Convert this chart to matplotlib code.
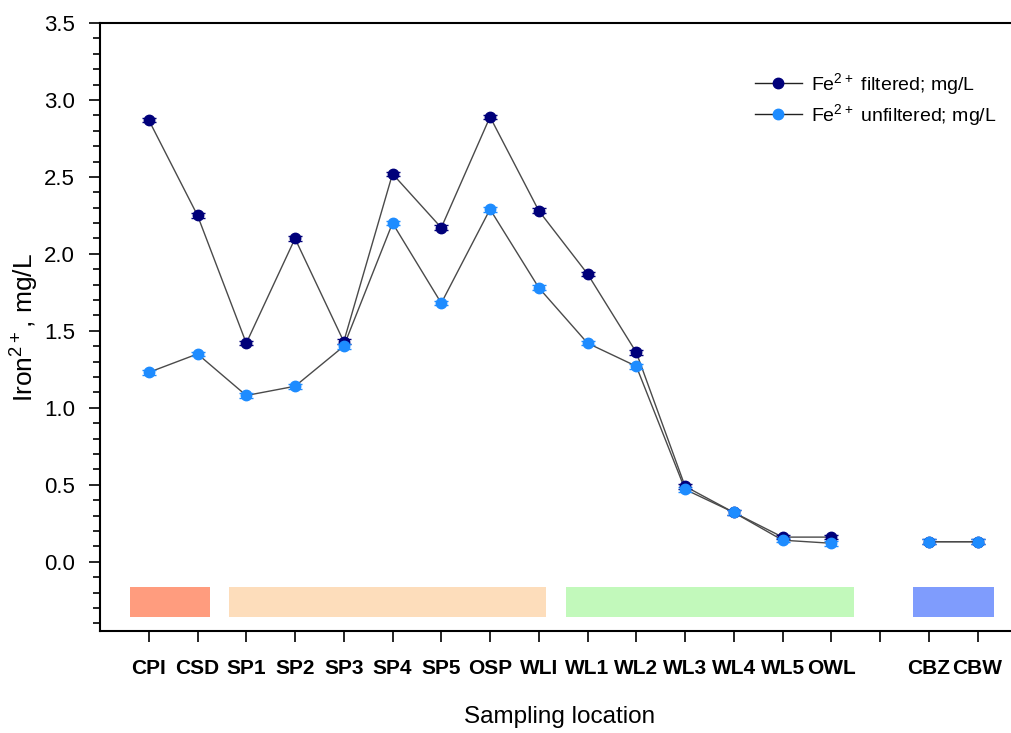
import numpy as np
import matplotlib
matplotlib.use("Agg")
import matplotlib.pyplot as plt
from matplotlib.ticker import MultipleLocator, FormatStrFormatter

plt.rcParams['font.family'] = ['Liberation Sans', 'DejaVu Sans']
plt.rcParams['mathtext.default'] = 'regular'

# sampling sites (slot 16 is an empty spacer between the two groups)
locations = ['CPI', 'CSD', 'SP1', 'SP2', 'SP3', 'SP4', 'SP5', 'OSP', 'WLI',
             'WL1', 'WL2', 'WL3', 'WL4', 'WL5', 'OWL', '', 'CBZ', 'CBW']
fe_filtered = [2.87, 2.25, 1.42, 2.10, 1.43, 2.52, 2.17, 2.89, 2.28,
               1.87, 1.36, 0.49, 0.32, 0.16, 0.16, np.nan, 0.13, 0.13]
fe_unfiltered = [1.23, 1.35, 1.08, 1.14, 1.40, 2.20, 1.68, 2.29, 1.78,
                 1.42, 1.27, 0.47, 0.32, 0.14, 0.12, np.nan, 0.13, 0.13]
fe_err = 0.015

# coloured bands under the x axis marking the site groups
group_spans = [(0.62, 2.26), (2.65, 9.14), (9.56, 15.47), (16.67, 18.34)]
group_colors = ['#ff9c7e', '#fdddbb', '#c2f9bb', '#7f9cfd']

x = np.arange(1, len(locations) + 1)

fig = plt.figure(figsize=(10.11, 7.33), dpi=100)
ax = fig.add_axes([100 / 1011, 102 / 733, 920 / 1011, 608 / 733])

for (x0, x1), c in zip(group_spans, group_colors):
    ax.bar((x0 + x1) / 2, 0.195, width=x1 - x0, bottom=-0.36, color=c,
           edgecolor='none', zorder=1)

ax.plot(x, fe_filtered, color='#4a4a4a', lw=1.0, zorder=2)
ax.plot(x, fe_unfiltered, color='#4a4a4a', lw=1.0, zorder=2)
ax.errorbar(x, fe_filtered, yerr=fe_err, fmt='none', ecolor='#00007a',
            capsize=5, elinewidth=1, capthick=1, zorder=3)
ax.errorbar(x, fe_unfiltered, yerr=fe_err, fmt='none', ecolor='#1e8cff',
            capsize=5, elinewidth=1, capthick=1, zorder=3)
ax.plot(x, fe_filtered, 'o', color='#00007a', ms=7.5, zorder=4)
ax.plot(x, fe_unfiltered, 'o', color='#1e8cff', ms=7.5, zorder=4)

# legend handles: dark line with coloured marker
h1, = ax.plot([], [], '-o', color='#222222', mfc='#00007a', mec='#00007a',
              ms=7.5, lw=1)
h2, = ax.plot([], [], '-o', color='#222222', mfc='#1e8cff', mec='#1e8cff',
              ms=7.5, lw=1)
ax.legend([h1, h2], ['Fe$^{2+}$ filtered; mg/L', 'Fe$^{2+}$ unfiltered; mg/L'],
          loc='upper right', bbox_to_anchor=(0.994, 0.95), frameon=False,
          fontsize=14, handlelength=2.4, handletextpad=0.5, labelspacing=0.25)

ax.set_xlim(0, 18.87)
ax.set_ylim(-0.45, 3.5)
ax.set_xticks(x)
ax.set_xticklabels(locations, fontsize=15, fontweight='bold')
ax.yaxis.set_major_locator(MultipleLocator(0.5))
ax.yaxis.set_minor_locator(MultipleLocator(0.1))
ax.yaxis.set_major_formatter(FormatStrFormatter('%.1f'))
ax.tick_params(axis='y', labelsize=16, length=8, width=1.2, pad=10)
ax.tick_params(axis='y', which='minor', length=5, width=1.2)
ax.tick_params(axis='x', length=8, width=1.2, pad=12)
ax.spines['right'].set_visible(False)
for s in ['left', 'top', 'bottom']:
    ax.spines[s].set_linewidth(1.5)

ax.set_xlabel('Sampling location', fontsize=17.5, labelpad=20)
ax.set_ylabel('Iron$^{2+}$, mg/L', fontsize=19)
ax.yaxis.set_label_coords(-0.064, 0.5)

fig.savefig('out.png', dpi=100)
